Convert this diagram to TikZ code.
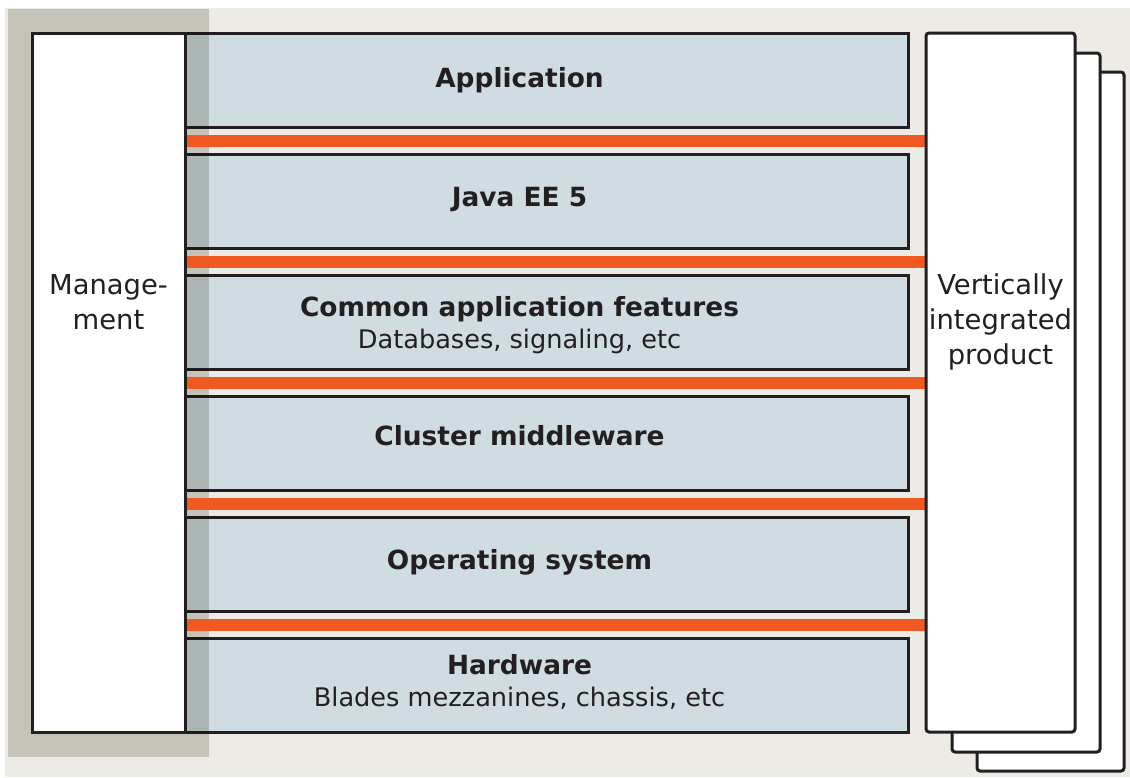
\documentclass[tikz,border=0pt]{standalone}
\usepackage{fontspec}
\setmainfont{DejaVu Sans}
\usetikzlibrary{calc}
\definecolor{paper}{RGB}{236,235,230}
\definecolor{band}{RGB}{213,212,204}
\definecolor{layerblue}{RGB}{207,220,226}
\definecolor{busorange}{RGB}{240,90,34}
\definecolor{ink}{RGB}{35,31,32}
\pgfdeclarelayer{background}
\pgfsetlayers{background,main}
\newcommand{\subline}[1]{\fontsize{12.8}{16}\selectfont\mdseries #1}
\begin{document}
\begin{tikzpicture}[
		x=0.5pt, y=-0.5pt,
		txt/.style={font=\fontsize{13.2}{16}\selectfont\bfseries, align=center, text=ink, inner sep=0pt},
		sidetxt/.style={txt, font=\fontsize{13.7}{17.5}\selectfont\mdseries},
		layer/.style={draw=ink, line width=1.5pt, fill=layerblue, minimum width=361.5pt, minimum height=47pt, inner sep=0pt},
		side/.style={draw=ink, line width=1.5pt, fill=white, minimum height=349.5pt, inner sep=0pt},
		bus/.style={draw=busorange, line width=6pt}
	]
	\useasboundingbox (0,0) rectangle (1130,777);

	% product stack, back to front
	\node[side, rounded corners=1.5pt, minimum width=73.5pt] (prod3) at (1050.5,421.5) {};
	\node[side, rounded corners=1.5pt, minimum width=74pt] (prod2) at (1026,402.5) {};
	\node[side, rounded corners=1.5pt, minimum width=74.5pt] (prod) at (1000.5,382.5) {};
	\node[sidetxt] (prod-txt) at ([yshift=30.5pt]prod.center) {Vertically\\integrated\\product};

	\node[side, minimum width=76.5pt] (mgmt) at (108.5,382.5) {};
	\node[sidetxt] (mgmt-txt) at ([yshift=40pt]mgmt.center) {Manage-\\ment};

	\begin{pgfonlayer}{background}
		\fill[paper] (5,8) rectangle (1130,777);

		% the layers
		\node[layer] (app) at (546.5,80) {};
		\node[layer] (jee) at (546.5,201) {};
		\node[layer] (caf) at (546.5,322) {};
		\node[layer] (mw) at (546.5,443) {};
		\node[layer] (os) at (546.5,564) {};
		\node[layer] (hw) at (546.5,685) {};

		\node[txt] (app-txt) at ([xshift=-13.5pt]app.center) {Application};
		\node[txt] (jee-txt) at ([xshift=-13.5pt,yshift=0.5pt]jee.center) {Java EE 5};
		\node[txt] (caf-txt) at ([xshift=-13.5pt,yshift=-1.5pt]caf.center) {Common application features\\\subline{Databases, signaling, etc}};
		\node[txt] (mw-txt) at ([xshift=-13.5pt,yshift=3.5pt]mw.center) {Cluster middleware};
		\node[txt] (os-txt) at ([xshift=-13.5pt,yshift=1pt]os.center) {Operating system};
		\node[txt] (hw-txt) at ([xshift=-13.5pt,yshift=1.5pt]hw.center) {Hardware\\\subline{Blades mezzanines, chassis, etc}};

		\begin{scope}[blend mode=multiply]
			\fill[band] (8,9) rectangle (209,757);
		\end{scope}

		% buses between the layers
		\foreach \a/\b in {app/jee, jee/caf, caf/mw, mw/os, os/hw} {
				\coordinate (gap) at ($(\a.south)!.5!(\b.north)$);
				\draw[bus] (mgmt.east |- gap) -- (prod.west |- gap);
			}
	\end{pgfonlayer}
\end{tikzpicture}
\end{document}
